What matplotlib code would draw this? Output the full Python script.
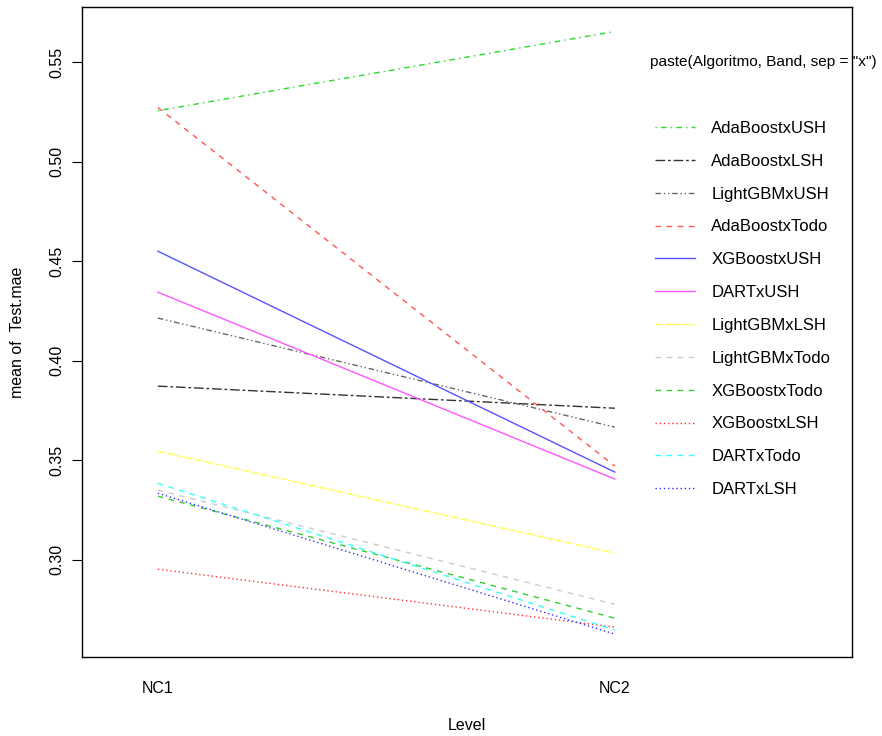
import matplotlib.pyplot as plt
import numpy as np

plt.rcParams['font.family'] = ['Liberation Sans', 'DejaVu Sans']

levels = ['NC1', 'NC2']

# series in legend order (sorted by NC2 value, like R interaction.plot)
series = ['AdaBoostxUSH', 'AdaBoostxLSH', 'LightGBMxUSH', 'AdaBoostxTodo',
          'XGBoostxUSH', 'DARTxUSH', 'LightGBMxLSH', 'LightGBMxTodo',
          'XGBoostxTodo', 'XGBoostxLSH', 'DARTxTodo', 'DARTxLSH']
nc1 = [0.5256, 0.3872, 0.4214, 0.5272, 0.4550, 0.4344, 0.3545, 0.3349,
       0.3319, 0.2952, 0.3384, 0.3334]
nc2 = [0.5654, 0.3761, 0.3666, 0.3470, 0.3440, 0.3405, 0.3033, 0.2776,
       0.2706, 0.2661, 0.2646, 0.2626]

colors = ['#22dd22', '#333333', '#666666', '#ff5555', '#5555ff', '#ff55ff',
          '#ffff44', '#cccccc', '#33cc33', '#ff3333', '#33ffff', '#3333ff']
styles = [(0, (1, 3, 4, 3)), (0, (7, 2, 2, 2)), (0, (4, 2, 1, 2, 1, 2)),
          (0, (4, 4)), '-', '-', (0, (4, 1, 1, 1)), (0, (4, 4)),
          (0, (4, 4)), (0, (1, 2)), (0, (4, 4)), (0, (1, 2))]

fig = plt.figure(figsize=(8.82, 7.36), dpi=100)
ax = fig.add_axes([82 / 882, 1 - 657 / 736, 770 / 882, 650 / 736])

x = np.arange(1, len(levels) + 1)
for name, a, b, c, ls in zip(series, nc1, nc2, colors, styles):
    ax.plot(x, [a, b], color=c, linestyle=ls, linewidth=1, label=name)

ax.set_xlim(0.834, 2.519)
ax.set_ylim(0.2511, 0.5777)
ax.set_xticks(x)
ax.set_xticklabels(levels, fontsize=11.5)
ax.tick_params(axis='x', length=0, pad=17)
ax.set_yticks([0.30, 0.35, 0.40, 0.45, 0.50, 0.55])
ax.set_yticklabels(['0.30', '0.35', '0.40', '0.45', '0.50', '0.55'],
                   rotation=90, va='center', fontsize=11.5)
ax.tick_params(axis='y', length=7, pad=6)
ax.set_xlabel('Level', fontsize=11.5, labelpad=16)
ax.set_ylabel('mean of  Test.mae', fontsize=11.5, labelpad=17)

for sp in ax.spines.values():
    sp.set_linewidth(1)

leg = ax.legend(loc='upper left', bbox_to_anchor=(0.735, 0.835), frameon=False,
                fontsize=12, handlelength=2.4, handletextpad=1.0,
                labelspacing=1.07, borderaxespad=0)
fig.text(650 / 882, 1 - 62 / 736, 'paste(Algoritmo, Band, sep = "x")',
         fontsize=11.1, va='center', ha='left')

fig.savefig('out.png', dpi=100)
